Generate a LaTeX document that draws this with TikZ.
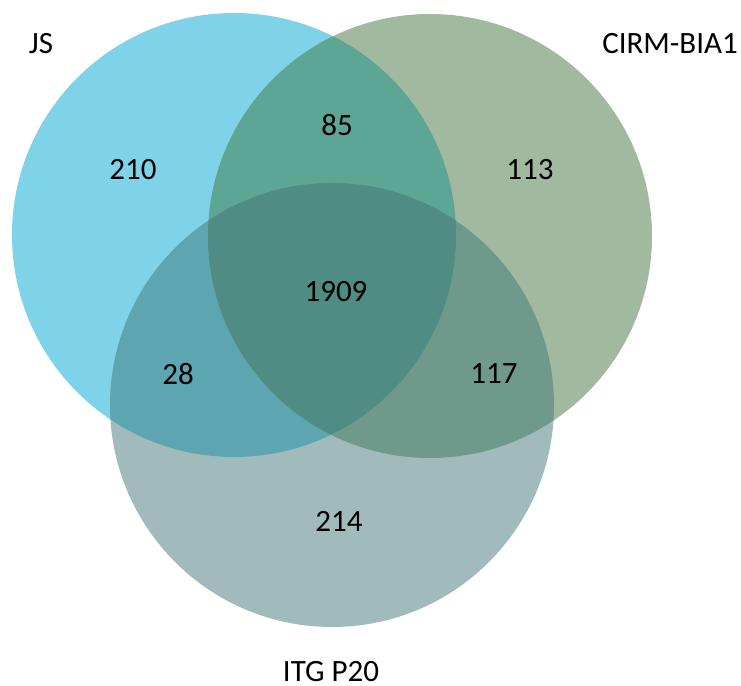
\documentclass[tikz,border=0pt]{standalone}
\usepackage{fontspec}
\setmainfont{Carlito}
\definecolor{cjs}{HTML}{7FD3E8}
\definecolor{ccirm}{HTML}{A0B99F}
\definecolor{citg}{HTML}{A1BBBD}
\definecolor{cjc}{HTML}{5DA594}
\definecolor{cji}{HTML}{5EA5B2}
\definecolor{cci}{HTML}{6F9A8B}
\definecolor{call}{HTML}{4F8C84}
\tikzset{lbl/.style={inner sep=0pt, font=\fontsize{31}{36}\selectfont, text=black}}
\begin{document}
\begin{tikzpicture}[x=1pt,y=-1pt]
\useasboundingbox (0,0) rectangle (741,685);
\def\rr{222}
\coordinate (cA) at (234,235);
\coordinate (cB) at (430,236);
\coordinate (cC) at (332,405);
% single sets
\fill[cjs] (cA) circle (\rr);
\fill[ccirm] (cB) circle (\rr);
\fill[citg] (cC) circle (\rr);
% pairwise
\begin{scope}\clip (cA) circle (\rr); \fill[cjc] (cB) circle (\rr); \end{scope}
\begin{scope}\clip (cA) circle (\rr); \fill[cji] (cC) circle (\rr); \end{scope}
\begin{scope}\clip (cB) circle (\rr); \fill[cci] (cC) circle (\rr); \end{scope}
% triple
\begin{scope}\clip (cA) circle (\rr); \clip (cB) circle (\rr); \fill[call] (cC) circle (\rr); \end{scope}
% labels
\node[lbl] (js) at (41,44) {JS};
\node[lbl] (cirm) at (670,44) {CIRM-BIA1};
\node[lbl] (itg) at (331,672) {ITG P20};
\node[lbl] (n210) at (133,170) {210};
\node[lbl] (n85) at (337,125) {85};
\node[lbl] (n113) at (530,170) {113};
\node[lbl] (n1909) at (336,292) {1909};
\node[lbl] (n28) at (178,374) {28};
\node[lbl] (n117) at (494,374) {117};
\node[lbl] (n214) at (339,521) {214};
\end{tikzpicture}
\end{document}
